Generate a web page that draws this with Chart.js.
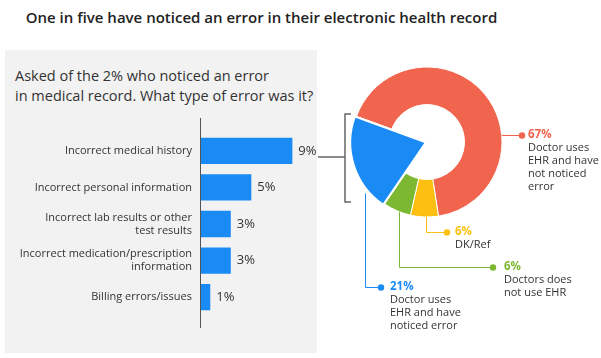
<!DOCTYPE html>
<html>
<head>
<meta charset="utf-8">
<script src="https://cdn.jsdelivr.net/npm/chart.js@4/dist/chart.umd.min.js"></script>
<style>
  html, body { margin:0; padding:0; background:#fff; }
  body { width:601px; height:358px; position:relative; overflow:hidden; font-family:"Open Sans", sans-serif; color:#333; }
  #title { position:absolute; left:0; width:523px; top:7px; text-align:center; font-size:15px; font-weight:600; color:#222; white-space:nowrap; }
  #panel { position:absolute; left:5px; top:50px; width:312px; height:303px; background:#f2f2f2; }
  #subtitle { position:absolute; left:15px; top:66px; font-size:14.5px; line-height:20px; color:#333; white-space:nowrap; }
  canvas { position:absolute; }
  #bar { left:5px; top:118px; }
  #ring, #pie { left:310px; top:55px; }
</style>
</head>
<body>
<div id="title">One in five have noticed an error in their electronic health record</div>
<div id="panel"></div>
<div id="subtitle">Asked of the 2% who noticed an error<br>in medical record. What type of error was it?</div>
<canvas id="bar" width="312" height="212" style="width:312px;height:212px"></canvas>
<canvas id="ring" width="291" height="300" style="width:291px;height:300px"></canvas>
<canvas id="pie" width="291" height="300" style="width:291px;height:300px"></canvas>
<script>
// ---------- data ----------
const errorTypes = [
  'Incorrect medical history',
  'Incorrect personal information',
  ['Incorrect lab results or other', 'test results'],
  ['Incorrect medication/prescription', 'information'],
  'Billing errors/issues'
];
const errorShares = [9, 5, 3, 3, 1];

const ehrGroups = [
  ['Doctor uses', 'EHR and have', 'not noticed', 'error'],
  ['DK/Ref'],
  ['Doctors does', 'not use EHR'],
  ['Doctor uses', 'EHR and have', 'noticed error']
];
const ehrShares = [67, 6, 6, 21];
const ehrColors = ['#F1644E', '#FDC010', '#7DB833', '#1A8BF5'];

// ---------- common ----------
const FONT = '"Open Sans", sans-serif';
Chart.defaults.font.family = FONT;
Chart.defaults.color = '#333';
Chart.defaults.animation = false;
Chart.defaults.events = [];
Chart.defaults.plugins.legend.display = false;
Chart.defaults.plugins.tooltip.enabled = false;

// ---------- bar chart ----------
const barLabelsPlugin = {
  id: 'barLabels',
  afterDatasetsDraw(chart) {
    const ctx = chart.ctx;
    const meta = chart.getDatasetMeta(0);
    ctx.save();
    ctx.strokeStyle = '#555';
    ctx.lineWidth = 1;
    ctx.beginPath();
    const ax = Math.round(chart.chartArea.left) + 0.5;
    ctx.moveTo(ax, 0);
    ctx.lineTo(ax, chart.height - 2);
    ctx.stroke();
    ctx.fillStyle = '#333';
    ctx.font = '13px ' + FONT;
    ctx.textBaseline = 'middle';
    ctx.textAlign = 'left';
    meta.data.forEach((bar, i) => {
      ctx.fillText(chart.data.datasets[0].data[i] + '%', bar.x + 6, bar.y);
    });
    ctx.restore();
  }
};

new Chart(document.getElementById('bar'), {
  type: 'bar',
  data: {
    labels: errorTypes,
    datasets: [{
      data: errorShares,
      backgroundColor: '#1A8BF5',
      borderWidth: 0,
      categoryPercentage: 1,
      barPercentage: 0.72
    }]
  },
  options: {
    indexAxis: 'y',
    responsive: false,
    layout: { padding: { top: 13.5, bottom: 13.5, right: 0, left: 0 } },
    scales: {
      x: { display: false, min: 0, max: 11.4 },
      y: {
        grid: { display: false, drawTicks: false },
        border: { display: false },
        ticks: { padding: 8, font: { size: 11, lineHeight: 1.2 }, color: '#333' },
        afterFit(scale) { scale.width = 195; }
      }
    }
  },
  plugins: [barLabelsPlugin]
});

// ---------- doughnut (ring) ----------
const CANVAS_X = 310, CANVAS_Y = 55;
const donutLayout = { padding: { left: 0, right: 57, top: 0, bottom: 126 } };

new Chart(document.getElementById('ring'), {
  type: 'doughnut',
  data: {
    labels: ehrGroups.map(g => g.join(' ')),
    datasets: [{
      data: ehrShares,
      backgroundColor: ehrColors.map((c, i) => i === 3 ? 'rgba(0,0,0,0)' : c),
      borderWidth: 1,
      borderColor: '#fff'
    }]
  },
  options: {
    responsive: false,
    layout: donutLayout,
    radius: 75,
    cutout: '50%',
    rotation: -70
  }
});

// ---------- pie (exploded blue slice + callouts) ----------
const callouts = [
  { type: 'h', y: 135, dotX: 522, textX: 528 },
  { type: 'v', x: 426, y: 232, dotX: 447, textX: 455 },
  { type: 'v', x: 399, y: 267, dotX: 493, textX: 504 },
  { type: 'v', x: 365, y: 287, dotX: 381, textX: 390 }
];

const calloutPlugin = {
  id: 'callouts',
  afterDatasetsDraw(chart) {
    const ctx = chart.ctx;
    const meta = chart.getDatasetMeta(0);
    const data = chart.data.datasets[0].data;
    ctx.save();
    ctx.translate(-CANVAS_X, -CANVAS_Y);
    ctx.strokeStyle = '#666';
    ctx.lineWidth = 1.5;
    ctx.beginPath();
    ctx.moveTo(351, 114); ctx.lineTo(345, 114); ctx.lineTo(345, 202); ctx.lineTo(351, 202);
    ctx.moveTo(318, 157); ctx.lineTo(345, 157);
    ctx.stroke();

    callouts.forEach((c, i) => {
      const arc = meta.data[i];
      const p = arc.getProps(['x', 'y', 'startAngle', 'endAngle', 'outerRadius']);
      const mid = (p.startAngle + p.endAngle) / 2;
      const off = chart.data.datasets[0].offset[i] || 0;
      const cx = p.x + Math.cos(mid) * off + CANVAS_X;
      const cy = p.y + Math.sin(mid) * off + CANVAS_Y;
      const R = p.outerRadius;
      const col = ehrColors[i];
      ctx.strokeStyle = col;
      ctx.lineWidth = 1;
      ctx.beginPath();
      if (c.type === 'h') {
        const sx = cx + Math.sqrt(Math.max(R * R - (c.y - cy) ** 2, 0));
        ctx.moveTo(sx, c.y + 0.5); ctx.lineTo(c.dotX, c.y + 0.5);
      } else {
        const sy = cy + Math.sqrt(Math.max(R * R - (c.x - cx) ** 2, 0));
        ctx.moveTo(c.x + 0.5, sy); ctx.lineTo(c.x + 0.5, c.y + 0.5); ctx.lineTo(c.dotX, c.y + 0.5);
      }
      ctx.stroke();
      ctx.fillStyle = col;
      ctx.beginPath();
      ctx.arc(c.dotX, c.y + 0.5, 3.2, 0, Math.PI * 2);
      ctx.fill();
      ctx.textAlign = 'left';
      ctx.textBaseline = 'middle';
      ctx.font = 'bold 11.5px ' + FONT;
      ctx.fillText(data[i] + '%', c.textX, c.y);
      ctx.fillStyle = '#333';
      ctx.font = '11px ' + FONT;
      ehrGroups[i].forEach((line, k) => {
        ctx.fillText(line, c.textX, c.y + 13 * (k + 1));
      });
    });
    ctx.restore();
  }
};

new Chart(document.getElementById('pie'), {
  type: 'pie',
  data: {
    labels: ehrGroups.map(g => g.join(' ')),
    datasets: [{
      data: ehrShares,
      backgroundColor: ehrColors.map((c, i) => i === 3 ? c : 'rgba(0,0,0,0)'),
      borderWidth: ehrShares.map((v, i) => i === 3 ? 1.5 : 0),
      borderColor: '#fff',
      offset: ehrShares.map((v, i) => i === 3 ? 6 : 0)
    }]
  },
  options: {
    responsive: false,
    layout: donutLayout,
    radius: 75,
    rotation: -70
  },
  plugins: [calloutPlugin]
});
</script>
</body>
</html>
